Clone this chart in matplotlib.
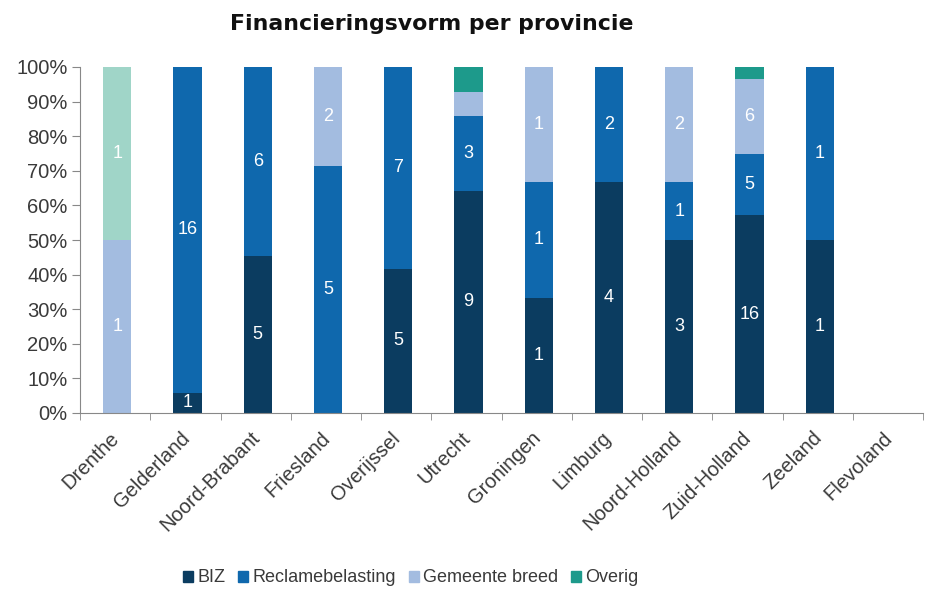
import matplotlib
matplotlib.use("Agg")
import matplotlib.pyplot as plt
from matplotlib.patches import Patch
import numpy as np

provinces = ["Drenthe", "Gelderland", "Noord-Brabant", "Friesland", "Overijssel", "Utrecht",
             "Groningen", "Limburg", "Noord-Holland", "Zuid-Holland", "Zeeland", "Flevoland"]
biz = [0, 1, 5, 0, 5, 9, 1, 4, 3, 16, 1, 0]
reclame = [0, 16, 6, 5, 7, 3, 1, 2, 1, 5, 1, 0]
gemeente = [1, 0, 0, 2, 0, 1, 1, 0, 2, 6, 0, 0]
overig = [1, 0, 0, 0, 0, 1, 0, 0, 0, 1, 0, 0]
series_names = ["BIZ", "Reclamebelasting", "Gemeente breed", "Overig"]
# segments whose value label is not shown in the reference: (series index, province index)
hidden_labels = {(2, 5), (3, 5), (3, 9)}

colors = ["#0b3c60", "#0f68ad", "#a3bce0", "#1d9a8b"]
light_overig = "#a0d5c8"

data = np.array([biz, reclame, gemeente, overig], dtype=float)
totals = data.sum(axis=0)
safe = np.where(totals == 0, 1, totals)
frac = data / safe

fig = plt.figure(figsize=(9.46, 5.91), dpi=100)
ax = fig.add_axes([80/946, 1-413/591, 843/946, 346/591])

x = np.arange(len(provinces))
bottom = np.zeros(len(provinces))
for s in range(4):
    cols = [colors[s]] * len(provinces)
    if s == 3:
        cols[0] = light_overig
    ax.bar(x + 0.03, frac[s], bottom=bottom, width=0.4, color=cols, label=series_names[s], linewidth=0)
    for i in range(len(provinces)):
        if data[s, i] > 0 and (s, i) not in hidden_labels:
            ax.text(x[i] + 0.03, bottom[i] + frac[s, i] / 2, f"{int(data[s, i])}", ha="center", va="center",
                    color="white", fontsize=13, family="Liberation Sans")
    bottom += frac[s]

ax.set_xlim(-0.5, len(provinces) - 0.5)
ax.set_ylim(0, 1)
ax.set_yticks(np.arange(0, 1.01, 0.1))
ax.set_yticklabels([f"{int(round(v*100))}%" for v in np.arange(0, 1.01, 0.1)],
                   fontsize=14.5, color="#3a3a3a", family="Liberation Sans")
ax.set_xticks(x - 0.08)
ax.set_xticklabels(provinces, rotation=45, ha="right", va="top", rotation_mode="anchor",
                   fontsize=14.5, color="#3a3a3a", family="Liberation Sans")
ax.tick_params(axis="x", length=0, pad=11)
ax.set_xticks(np.arange(-0.5, len(provinces), 1), minor=True)
ax.tick_params(axis="x", which="minor", length=5, color="#888888")
ax.tick_params(axis="y", length=6, color="#888888", pad=3)
for sp in ["top", "right"]:
    ax.spines[sp].set_visible(False)
for sp in ["left", "bottom"]:
    ax.spines[sp].set_color("#888888")

fig.text(432/946, 1-24/591, "Financieringsvorm per provincie", ha="center", va="center",
         fontsize=15.8, fontweight="bold", family="DejaVu Sans", color="#111111")

handles = [Patch(color=c) for c in colors]
fig.legend(handles, series_names, loc="center", bbox_to_anchor=(411/946, 1-578/591), ncol=4,
           frameon=False, handlelength=0.55, handleheight=0.55, handletextpad=0.25, columnspacing=0.7,
           prop={"family": "Liberation Sans", "size": 13}, labelcolor="#3a3a3a")

fig.savefig("out.png", dpi=100)
